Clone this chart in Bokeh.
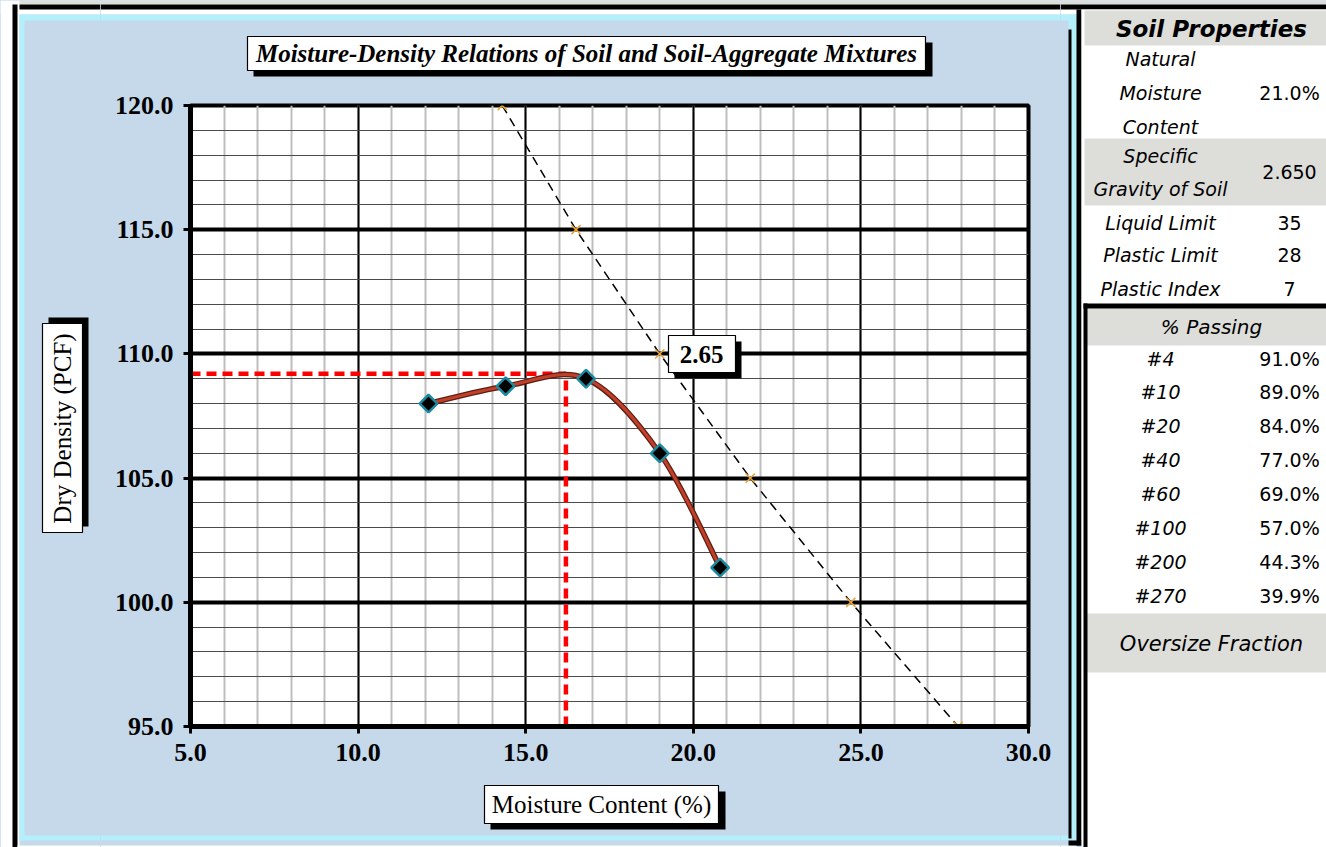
import numpy as np
from bokeh.plotting import figure
from bokeh.layouts import row, column
from bokeh.models import Range1d, FixedTicker, PrintfTickFormatter, BoxAnnotation, Label
from bokeh.embed import file_html
from bokeh.resources import INLINE

# ---------------- data ----------------
moisture = [12.1, 14.4, 16.8, 19.0, 20.8]
density = [108.0, 108.7, 109.0, 106.0, 101.4]
opt_moisture = 16.2
max_density = 109.2
zav_moisture = [14.3, 16.5, 19.0, 21.7, 24.7, 27.9]
zav_density = [120.0, 115.0, 110.0, 105.0, 100.0, 95.0]
zav_label = "2.65"
x_ticks = [5.0, 10.0, 15.0, 20.0, 25.0, 30.0]
x_minor = [5.0 + i for i in range(26)]
y_ticks = [95.0, 100.0, 105.0, 110.0, 115.0, 120.0]
y_minor = [95.0 + i for i in range(26)]

chart_title = "Moisture-Density Relations of Soil and Soil-Aggregate Mixtures"
x_title = "Moisture Content (%)"
y_title = "Dry Density (PCF)"

table_title = "Soil Properties"
prop_names = [["Natural", "Moisture", "Content"], ["Specific", "Gravity of Soil"],
              ["Liquid Limit"], ["Plastic Limit"], ["Plastic Index"]]
prop_values = ["21.0%", "2.650", "35", "28", "7"]
passing_title = "% Passing"
sieves = ["#4", "#10", "#20", "#40", "#60", "#100", "#200", "#270"]
passing = ["91.0%", "89.0%", "84.0%", "77.0%", "69.0%", "57.0%", "44.3%", "39.9%"]
oversize_title = "Oversize Fraction"

# ---------------- layout constants (page pixels) ----------------
W, H = 1326, 847
FX0, FX1, FY0, FY1 = 190, 1028, 105, 726   # plot frame
MX0, MX1, MY0, MY1 = 100, 1060, 85, 775    # main figure extent

BLUE = "#C5D9EB"
CYAN = "#B4F0FC"
GRAY = "#DDDDD9"
SERIF = "Liberation Serif"
SANS = "DejaVu Sans"
BG = {"background-color": BLUE}


def panel(x0, x1, y0, y1):
    f = figure(width=x1 - x0, height=y1 - y0, x_range=Range1d(x0, x1), y_range=Range1d(y1, y0),
               output_backend="svg", toolbar_location=None, x_axis_location=None,
               y_axis_location=None, min_border=0, title=None, styles=BG)
    f.outline_line_color = None
    f.background_fill_color = BLUE
    f.border_fill_color = BLUE
    f.grid.visible = False
    return f


def rect(f, x0, x1, y0, y1, color, line=None):
    f.quad(left=x0, right=x1, top=y0, bottom=y1, fill_color=color,
           line_color=line, line_width=1.2)


def lab(f, x, y, text, size, font=SANS, style="normal", align="center", angle=0):
    f.add_layout(Label(x=x, y=y, text=text, text_font=font, text_font_size=f"{size}px",
                       text_font_style=style, text_align=align, text_baseline="middle",
                       angle=angle, angle_units="deg", text_color="black"))


# ---------------- left panel (full height) ----------------
left = panel(0, MX0, 0, H)
rect(left, 0, MX0, 0, 14, "white")
rect(left, 16, MX0, 0, 4, GRAY)
rect(left, 12, MX0, 4, 9, "black")
rect(left, 0, 19, 0, H, "white")
rect(left, 12, 17, 4, H, "black")
rect(left, 19, 24, 14, 840, CYAN)
rect(left, 19, MX0, 14, 20, CYAN)
rect(left, 19, MX0, 835, 840, CYAN)
rect(left, 24, MX0, 840, 845, BLUE)
rect(left, 17, MX0, 845, H, "white")
rect(left, 48, 88, 317, 526, "black")
rect(left, 42, 82, 323, 532, "white", "black")
lab(left, 62, 428, y_title, 25, SERIF, "normal", angle=90)

# ---------------- top panel ----------------
top = panel(MX0, MX1, 0, MY0)
rect(top, MX0, MX1, 0, 14, "white")
rect(top, MX0, MX1, 0, 4, GRAY)
rect(top, MX0, MX1, 4, 9, "black")
rect(top, MX0, MX1, 14, 20, CYAN)
rect(top, 253, 932, 42, 76, "black")
rect(top, 247, 925, 36, 70, "white", "black")
lab(top, 586, 53, chart_title, 25, SERIF, "bold italic")

# ---------------- bottom panel ----------------
bottom = panel(MX0, MX1, MY1, H)
rect(bottom, MX0, MX1, 835, 840, CYAN)
rect(bottom, MX0, MX1, 840, 845, BLUE)
rect(bottom, MX0, MX1, 845, H, "white")
rect(bottom, 490, 725, 791, 829, "black")
rect(bottom, 484, 718, 785, 823, "white", "black")
lab(bottom, 601, 804, x_title, 25, SERIF, "normal")

# ---------------- main chart ----------------
p = figure(width=MX1 - MX0, height=MY1 - MY0, x_range=Range1d(5, 30), y_range=Range1d(95, 120),
           output_backend="svg", toolbar_location=None, title=None, styles=BG,
           min_border_left=FX0 - MX0, min_border_right=MX1 - FX1,
           min_border_top=FY0 - MY0, min_border_bottom=MY1 - FY1)
p.border_fill_color = BLUE
p.background_fill_color = "white"
p.outline_line_color = "black"
p.outline_line_width = 4

xt = FixedTicker(ticks=x_ticks, minor_ticks=x_minor)
yt = FixedTicker(ticks=y_ticks, minor_ticks=y_minor)
p.xaxis.ticker = xt
p.yaxis.ticker = yt
p.xgrid.ticker = xt
p.ygrid.ticker = yt
for ax in (p.xaxis[0], p.yaxis[0]):
    ax.formatter = PrintfTickFormatter(format="%.1f")
    ax.axis_line_width = 5
    ax.axis_line_color = "black"
    ax.major_tick_line_width = 3
    ax.major_tick_out = 7
    ax.major_tick_in = 0
    ax.minor_tick_line_color = None
    ax.major_label_text_font = SERIF
    ax.major_label_text_font_size = "26px"
    ax.major_label_text_font_style = "bold"
    ax.major_label_text_color = "black"
    ax.major_label_standoff = 10

p.xgrid.grid_line_color = "black"
p.xgrid.grid_line_width = 2
p.xgrid.minor_grid_line_color = "#BEBEBE"
p.xgrid.minor_grid_line_width = 2
p.ygrid.grid_line_color = "black"
p.ygrid.grid_line_width = 4
p.ygrid.minor_grid_line_color = "#4A4A4A"
p.ygrid.minor_grid_line_width = 1.2


def X(px):
    return 5 + (px - FX0) * 25 / (FX1 - FX0)


def Y(py):
    return 120 - (py - FY0) * 25 / (FY1 - FY0)


# max density reference lines
p.line([5, opt_moisture], [max_density, max_density], line_color="#FF0000", line_width=4.5,
       line_dash="10 6")
p.line([opt_moisture, opt_moisture], [95, max_density], line_color="#FF0000", line_width=4.5,
       line_dash="10 6")

# zero air voids line
p.line(zav_moisture, zav_density, line_color="black", line_width=1.5, line_dash="9 6")
p.scatter(zav_moisture, zav_density, marker="x", size=13, line_color="#EBA53A", line_width=1.6)

# smoothed compaction curve (Catmull-Rom style bezier through the points)
pts = list(zip(moisture, density))
n = len(pts)
bx0, by0, bx1, by1, bcx0, bcy0, bcx1, bcy1 = ([] for _ in range(8))
for i in range(n - 1):
    q0 = pts[i - 1] if i > 0 else pts[i]
    q1 = pts[i]
    q2 = pts[i + 1]
    q3 = pts[i + 2] if i + 2 < n else pts[i + 1]
    bx0.append(q1[0]); by0.append(q1[1])
    bx1.append(q2[0]); by1.append(q2[1])
    bcx0.append(q1[0] + (q2[0] - q0[0]) / 6); bcy0.append(q1[1] + (q2[1] - q0[1]) / 6)
    bcx1.append(q2[0] - (q3[0] - q1[0]) / 6); bcy1.append(q2[1] - (q3[1] - q1[1]) / 6)
p.bezier(x0=bx0, y0=by0, x1=bx1, y1=by1, cx0=bcx0, cy0=bcy0, cx1=bcx1, cy1=bcy1,
         line_color="#5A1E12", line_width=5.5, line_cap="round")
p.bezier(x0=bx0, y0=by0, x1=bx1, y1=by1, cx0=bcx0, cy0=bcy0, cx1=bcx1, cy1=bcy1,
         line_color="#C2402A", line_width=3, line_cap="round")
p.scatter(moisture, density, marker="square", angle=np.pi / 4, size=12.5,
          fill_color="black", line_color="#1B8BA0", line_width=2.5)

# ZAV label box
p.add_layout(BoxAnnotation(left=X(674), right=X(741), top=Y(341), bottom=Y(378),
                           fill_color="black", fill_alpha=1, line_alpha=0))
p.add_layout(BoxAnnotation(left=X(668), right=X(735), top=Y(335), bottom=Y(372),
                           fill_color="white", fill_alpha=1, line_color="black",
                           line_alpha=1, line_width=1.2))
p.add_layout(Label(x=X(701), y=Y(354), text=zav_label, text_font=SERIF, text_font_size="25px",
                   text_font_style="bold", text_align="center", text_baseline="middle",
                   text_color="black"))

# ---------------- right panel (edges + table) ----------------
r = panel(MX1, W, 0, H)
rect(r, MX1, W, 0, 14, "white")
rect(r, MX1, W, 0, 4, GRAY)
rect(r, MX1, W, 4, 9, "black")
rect(r, MX1, 1076, 14, 20, CYAN)
rect(r, 1068, 1076, 14, 840, CYAN)
rect(r, MX1, 1076, 835, 840, CYAN)
rect(r, MX1, 1076, 840, 845, BLUE)
rect(r, MX1, 1076, 845, H, "white")
rect(r, 1068, 1071, 29, 838, "black")
rect(r, 1068, 1081, 840, 845, "black")
rect(r, 1076, 1081, 9, 845, "black")
rect(r, 1081, W, 9, H, "white")
for y0, y1 in [(10, 45), (138, 205), (308, 345), (613, 672)]:
    rect(r, 1084, W, y0, y1, GRAY)
rect(r, 1083, W, 303, 308, "black")
rect(r, 1083, 1087, 303, H, "black")

lab(r, 1211, 28, table_title, 23, SANS, "bold italic")
prop_rows = [[58, 92, 126], [155, 188], [222], [254], [288]]
prop_val_y = [92, 171, 222, 254, 288]
for lines, ys, val, vy in zip(prop_names, prop_rows, prop_values, prop_val_y):
    for t, yy in zip(lines, ys):
        lab(r, 1160, yy, t, 19, SANS, "italic")
    lab(r, 1289, vy, val, 19, SANS, "normal")
lab(r, 1211, 326, passing_title, 20, SANS, "italic")
for i, (s, v) in enumerate(zip(sieves, passing)):
    yy = 358 + 33.9 * i
    lab(r, 1160, yy, s, 19, SANS, "italic")
    lab(r, 1289, yy, v, 19, SANS, "normal")
lab(r, 1211, 643, oversize_title, 21, SANS, "italic")

layout = row(left, column(top, row(p, styles=BG), bottom, styles=BG), r, styles=BG)
open("out.html", "w").write(file_html(layout, INLINE))
